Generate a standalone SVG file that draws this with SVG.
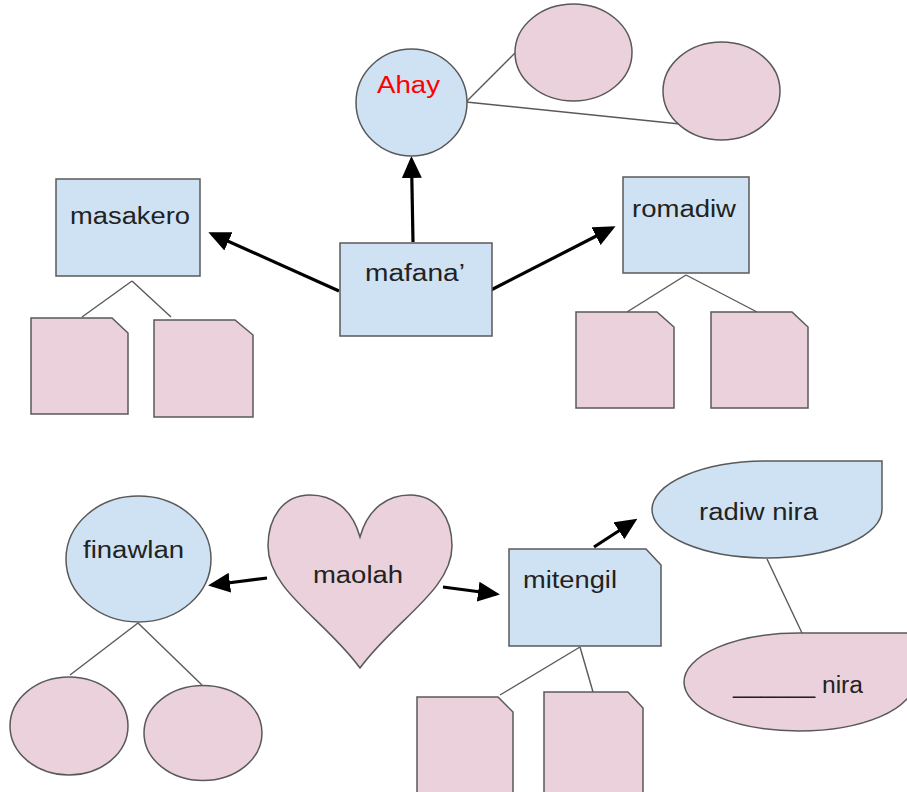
<svg xmlns="http://www.w3.org/2000/svg" width="907" height="792" viewBox="0 0 907 792">
<style>
.blue{fill:#cfe2f3;stroke:#595959;stroke-width:1.5}
.pink{fill:#ead1dc;stroke:#595959;stroke-width:1.5}
.thin{stroke:#595959;stroke-width:1.4;fill:none}
.arr{stroke:#000;stroke-width:3.2;fill:none;marker-end:url(#ah)}
.lbl{font-family:"Liberation Sans",Arial,sans-serif;font-size:23px;fill:#222}
</style>
<defs>
<marker id="ah" markerUnits="userSpaceOnUse" viewBox="0 0 22 20" markerWidth="22" markerHeight="20" refX="18" refY="10" orient="auto">
<path d="M0,0 L22,10 L0,20 Z" fill="#000"/>
</marker>
</defs>
<rect width="907" height="792" fill="#fff"/>

<g id="connectors">
<line class="thin" x1="466" y1="102" x2="515" y2="53"/>
<line class="thin" x1="466" y1="102" x2="680" y2="124"/>
<line class="thin" x1="132" y1="281" x2="82" y2="317"/>
<line class="thin" x1="132" y1="281" x2="171" y2="317"/>
<line class="thin" x1="686" y1="275" x2="627" y2="312"/>
<line class="thin" x1="686" y1="275" x2="757" y2="312"/>
<line class="thin" x1="138" y1="623" x2="70" y2="675"/>
<line class="thin" x1="138" y1="623" x2="202" y2="685"/>
<line class="thin" x1="767" y1="559" x2="802" y2="633"/>
<line class="thin" x1="580" y1="647" x2="500" y2="695"/>
<line class="thin" x1="580" y1="647" x2="593" y2="692"/>
<line class="arr" x1="413" y1="242" x2="411.5" y2="160"/>
<line class="arr" x1="339" y1="291" x2="212" y2="234"/>
<line class="arr" x1="491" y1="290" x2="612" y2="228"/>
<line class="arr" x1="267" y1="578" x2="212" y2="585"/>
<line class="arr" x1="443" y1="587" x2="496" y2="594"/>
<line class="arr" x1="594" y1="547" x2="634" y2="521"/>
</g>

<g id="ahay"><ellipse class="blue" cx="411.5" cy="102.5" rx="55.5" ry="53.5"/>
<text class="lbl" x="377" y="93" textLength="63" lengthAdjust="spacingAndGlyphs" style="fill:#ff0000">Ahay</text></g>
<g id="ahay-e1"><ellipse class="pink" cx="573.5" cy="52.5" rx="58.5" ry="48.5"/></g>
<g id="ahay-e2"><ellipse class="pink" cx="721.5" cy="91" rx="58.5" ry="49"/></g>

<g id="mafana"><rect class="blue" x="340" y="243" width="152" height="93"/>
<text class="lbl" x="365" y="281" textLength="100" lengthAdjust="spacingAndGlyphs">mafana’</text></g>

<g id="masakero"><rect class="blue" x="56" y="179" width="144" height="97"/>
<text class="lbl" x="70" y="224" textLength="120" lengthAdjust="spacingAndGlyphs">masakero</text></g>
<g id="masakero-d1"><path class="pink" d="M31,318 H112 L128,333 V414 H31 Z"/></g>
<g id="masakero-d2"><path class="pink" d="M154,320 H235 L253,335 V417 H154 Z"/></g>

<g id="romadiw"><rect class="blue" x="623" y="177" width="126" height="96"/>
<text class="lbl" x="632" y="217" textLength="104" lengthAdjust="spacingAndGlyphs">romadiw</text></g>
<g id="romadiw-d1"><path class="pink" d="M576,312 H657 L674,327 V408 H576 Z"/></g>
<g id="romadiw-d2"><path class="pink" d="M711,312 H792 L808,327 V408 H711 Z"/></g>

<g id="finawlan"><ellipse class="blue" cx="138.5" cy="559" rx="72.5" ry="63"/>
<text class="lbl" x="83" y="558" textLength="101" lengthAdjust="spacingAndGlyphs">finawlan</text></g>
<g id="finawlan-e1"><ellipse class="pink" cx="69" cy="726" rx="59" ry="49"/></g>
<g id="finawlan-e2"><ellipse class="pink" cx="203" cy="733" rx="59" ry="47.5"/></g>

<g id="maolah"><path class="pink" d="M360,537 C352,508 332,495 310,495 C283,495 268,518 268,546 C268,590 325,620 360,668 C395,620 452,590 452,546 C452,518 437,495 410,495 C388,495 368,508 360,537 Z"/>
<text class="lbl" x="313" y="583" textLength="90" lengthAdjust="spacingAndGlyphs">maolah</text></g>

<g id="mitengil"><path class="blue" d="M509,549 H646 L661,565 V646 H509 Z"/>
<text class="lbl" x="523" y="588" textLength="94" lengthAdjust="spacingAndGlyphs">mitengil</text></g>
<g id="mitengil-d1"><path class="pink" d="M417,697 H498 L513,712 V800 H417 Z"/></g>
<g id="mitengil-d2"><path class="pink" d="M544,692 H628 L643,708 V800 H544 Z"/></g>

<g id="radiw-nira"><path class="blue" d="M652,509.5 A115,48.5 0 0 1 767,461 H882 V509.5 A115,48.5 0 0 1 767,558 A115,48.5 0 0 1 652,509.5 Z"/>
<text class="lbl" x="699" y="520" textLength="119" lengthAdjust="spacingAndGlyphs">radiw nira</text></g>

<g id="blank-nira"><path class="pink" d="M684,682 A115,49 0 0 1 799,633 H914 V682 A115,49 0 0 1 799,731 A115,49 0 0 1 684,682 Z"/>
<text class="lbl" x="733" y="693" textLength="130" lengthAdjust="spacingAndGlyphs">______ nira</text></g>
</svg>
